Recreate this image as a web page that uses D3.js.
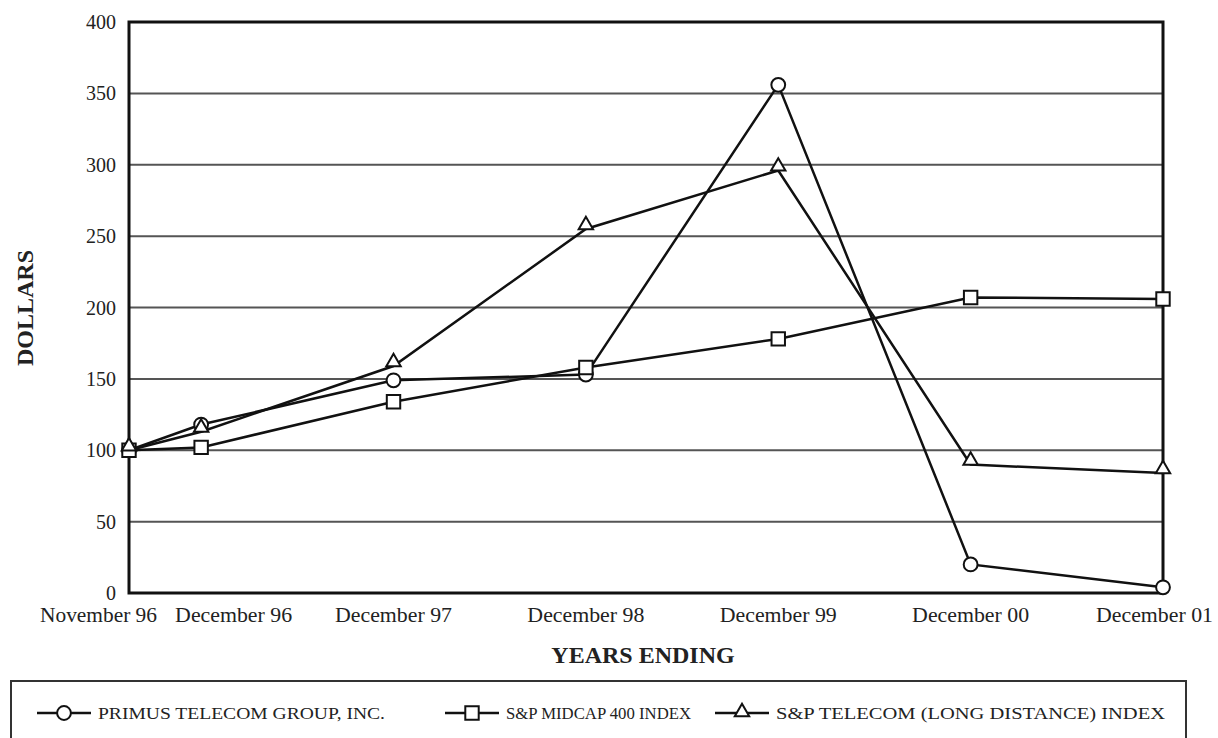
<!DOCTYPE html>
<html>
<head>
<meta charset="utf-8">
<script src="https://cdn.jsdelivr.net/npm/d3@7"></script>
<style>
  body { margin: 0; background: #fff; }
  text { font-family: "Liberation Serif", "DejaVu Serif", serif; fill: #222; }
</style>
</head>
<body>
<script>
// data
var periods = ["November 96", "December 96", "December 97", "December 98", "December 99", "December 00", "December 01"];
var periodPos = [0, 0.375, 1.375, 2.375, 3.375, 4.375, 5.375];
var primus = [100, 118, 149, 153, 356, 20, 4];
var midcap = [100, 102, 134, 158, 178, 207, 206];
var telecom = [100, 113, 159, 255, 296, 90, 84];
var yTicks = [0, 50, 100, 150, 200, 250, 300, 350, 400];
var seriesNames = ["PRIMUS TELECOM GROUP, INC.", "S&P MIDCAP 400 INDEX", "S&P TELECOM (LONG DISTANCE) INDEX"];

var w = 1218, h = 738;
var pLeft = 129, pRight = 1163, pTop = 22, pBottom = 593;

var x = d3.scaleLinear().domain([0, 5.375]).range([pLeft, pRight]);
var y = d3.scaleLinear().domain([0, 400]).range([pBottom, pTop]);

const svg = d3.select("body").append("svg").attr("width", w).attr("height", h);

// grid lines
svg.append("g").selectAll("line").data(yTicks.slice(1, -1)).enter().append("line")
  .attr("x1", pLeft).attr("x2", pRight)
  .attr("y1", d => y(d)).attr("y2", d => y(d))
  .attr("stroke", "#555").attr("stroke-width", 2);

// y tick labels
svg.append("g").selectAll("text").data(yTicks).enter().append("text")
  .attr("x", 116).attr("y", d => y(d) + 7)
  .attr("text-anchor", "end").style("font-size", "20px")
  .text(d => d);

// x tick labels (first two and last are nudged so they don't collide)
var anchors = ["end", "start", "middle", "middle", "middle", "middle", "end"];
var nudge = [28, -26, 0, 0, 0, 0, 50];
svg.append("g").selectAll("text").data(periods).enter().append("text")
  .attr("x", (d, i) => x(periodPos[i]) + nudge[i]).attr("y", 622)
  .attr("text-anchor", (d, i) => anchors[i]).style("font-size", "20px")
  .attr("textLength", 117).attr("lengthAdjust", "spacingAndGlyphs")
  .text(d => d);

// axis titles
svg.append("text").attr("transform", "translate(33,308) rotate(-90)")
  .attr("text-anchor", "middle").style("font-size", "24px").style("font-weight", "bold")
  .text("DOLLARS");
svg.append("text").attr("x", 643).attr("y", 663)
  .attr("text-anchor", "middle").style("font-size", "24px").style("font-weight", "bold")
  .text("YEARS ENDING");

// lines
var line = d3.line().x((d, i) => x(periodPos[i])).y(d => y(d));
[primus, midcap, telecom].forEach(function (s) {
  svg.append("path").datum(s).attr("d", line)
    .attr("fill", "none").attr("stroke", "#111").attr("stroke-width", 2.5);
});

// frame
svg.append("rect").attr("x", pLeft).attr("y", pTop)
  .attr("width", pRight - pLeft).attr("height", pBottom - pTop)
  .attr("fill", "none").attr("stroke", "#111").attr("stroke-width", 3);

// markers (triangles sit with their base on the point)
var sym = [d3.symbolCircle, d3.symbolSquare, d3.symbolTriangle];
var sizes = [150, 180, 90];
var lift = [0, 0, 4];
function marker(g, k) {
  return g.append("path").attr("d", d3.symbol().type(sym[k]).size(sizes[k])())
    .attr("transform", "translate(0," + (-lift[k]) + ")")
    .attr("fill", "#fff").attr("stroke", "#111").attr("stroke-width", 2);
}
[primus, midcap, telecom].forEach(function (s, k) {
  s.forEach(function (v, i) {
    var g = svg.append("g").attr("transform", "translate(" + x(periodPos[i]) + "," + y(v) + ")");
    marker(g, k);
  });
});

// legend
svg.append("rect").attr("x", 11).attr("y", 681).attr("width", 1175).attr("height", 70)
  .attr("fill", "none").attr("stroke", "#333").attr("stroke-width", 2);
var legX = [37, 445, 715];
var legTextW = [287, 185, 389];
seriesNames.forEach(function (n, k) {
  var g = svg.append("g").attr("transform", "translate(" + legX[k] + ",713)");
  g.append("line").attr("x1", 0).attr("x2", 54).attr("stroke", "#111").attr("stroke-width", 2.5);
  marker(g.append("g").attr("transform", "translate(27," + (k == 2 ? 3 : 0) + ")"), k);
  g.append("text").attr("x", 61).attr("y", 6).style("font-size", "17px")
    .attr("textLength", legTextW[k]).attr("lengthAdjust", "spacingAndGlyphs")
    .text(n);
});
</script>
</body>
</html>
